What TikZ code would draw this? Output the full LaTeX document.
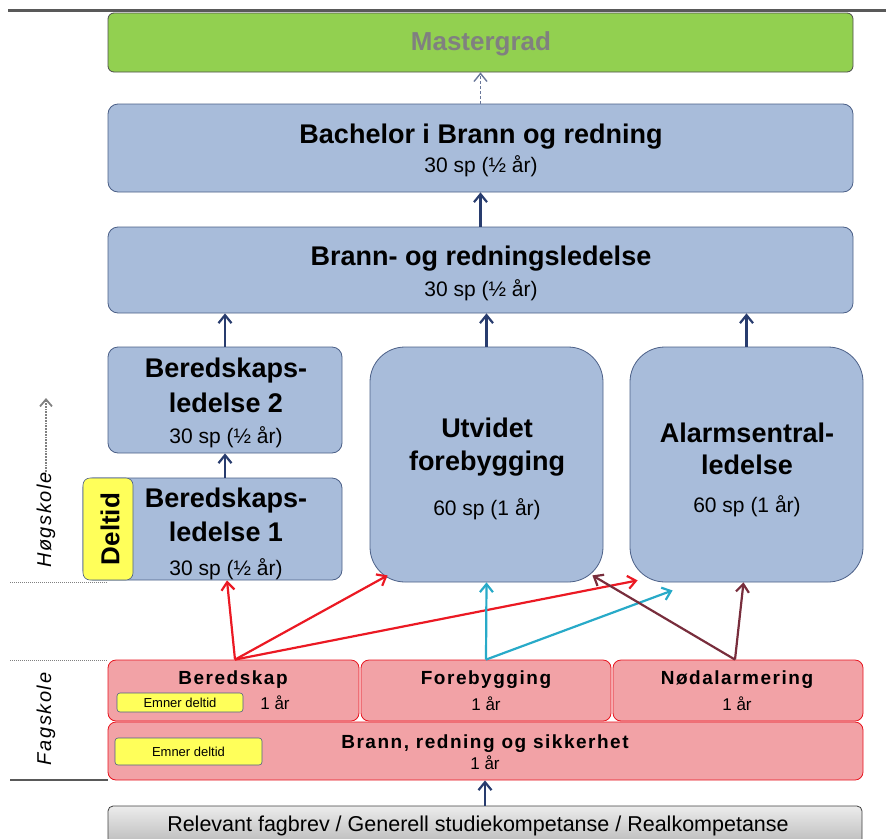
\documentclass[tikz,border=0pt]{standalone}
\usepackage{fontspec}
\setmainfont{Liberation Sans}
\newfontfamily\spaced[LetterSpace=8]{Liberation Sans}
\usetikzlibrary{arrows.meta}
\newcommand\fsz[1]{\fontsize{#1}{#1}\selectfont}
\definecolor{bluefill}{RGB}{168,188,218}
\definecolor{blueline}{RGB}{75,95,135}
\definecolor{greenfill}{RGB}{146,208,80}
\definecolor{pinkfill}{RGB}{242,162,166}
\definecolor{redline}{RGB}{232,20,30}
\definecolor{yellowfill}{RGB}{255,255,90}
\definecolor{navy}{RGB}{40,60,110}
\definecolor{cyanarrow}{RGB}{40,170,200}
\definecolor{maroonarrow}{RGB}{120,45,60}
\definecolor{redarrow}{RGB}{235,25,35}
\tikzset{
  bluebox/.style={draw=blueline, fill=bluefill, rounded corners=10pt, line width=0.8pt, inner sep=0pt},
  bigbox/.style={bluebox, rounded corners=35pt},
  pinkbox/.style={draw=redline, fill=pinkfill, rounded corners=8pt, line width=0.8pt, inner sep=0pt},
  ylwbox/.style={draw=blueline, fill=yellowfill, rounded corners=3pt, line width=0.6pt, inner sep=0pt},
  txt/.style={anchor=base, inner sep=0pt},
  uparrow/.style={-{Straight Barb[length=8pt,width=13pt]}, line width=2.2pt},
  sideline/.style={gray, line width=1pt},
}
\begin{document}
\begin{tikzpicture}[x=1pt,y=-1pt]
\useasboundingbox (0,0) rectangle (886,838);
% top line
\coordinate (tl1) at (8,10);
\coordinate (tl2) at (886,10);
\draw[gray!70!black, line width=3pt] (tl1) -- (tl2);
% left dividers
\coordinate (d1a) at (10,582); \coordinate (d1b) at (108,582);
\coordinate (d2a) at (10,660); \coordinate (d2b) at (108,660);
\coordinate (d3a) at (10,780); \coordinate (d3b) at (108,780);
\draw[sideline, densely dotted] (d1a) -- (d1b);
\draw[sideline, densely dotted] (d2a) -- (d2b);
\draw[gray!70!black, line width=1.2pt] (d3a) -- (d3b);

% boxes
\node[draw=gray!60!black, fill=greenfill, rounded corners=6pt, line width=0.8pt, minimum width=745pt, minimum height=59pt, inner sep=0pt] (mast) at (480.5,42.5) {};
\node[bluebox, minimum width=745pt, minimum height=88pt] (bach) at (480.5,148) {};
\node[bluebox, minimum width=745pt, minimum height=86pt] (led) at (480.5,270) {};
\node[bluebox, minimum width=234pt, minimum height=106pt] (bl2) at (225,400) {};
\node[bluebox, minimum width=259pt, minimum height=102pt] (bl1) at (212.5,529) {};
\node[bigbox, minimum width=233pt, minimum height=235pt] (utv) at (486.5,464.5) {};
\node[bigbox, minimum width=233pt, minimum height=235pt] (alarm) at (746.5,464.5) {};
\node[ylwbox, rounded corners=7pt, minimum width=50pt, minimum height=102pt] (deltid) at (108,529) {};
\node[rotate=90, inner sep=0pt] (deltidT) at (110,529) {\fsz{26}\bfseries Deltid};

\node[pinkbox, minimum width=251pt, minimum height=61pt] (bered) at (233.5,690.5) {};
\node[pinkbox, minimum width=250pt, minimum height=61pt] (fore) at (486,690.5) {};
\node[pinkbox, minimum width=250pt, minimum height=61pt] (nod) at (738,690.5) {};
\node[pinkbox, minimum width=755pt, minimum height=58pt] (brs) at (485.5,751) {};
\node[ylwbox, minimum width=126pt, minimum height=19pt] (em1) at (180,702.5) {\fsz{13}Emner deltid};
\node[ylwbox, minimum width=147pt, minimum height=27pt] (em2) at (188.5,751.5) {\fsz{13}Emner deltid};

\node[draw=gray!50!black, top color=gray!15, bottom color=gray!55, rounded corners=5pt, line width=0.8pt, minimum width=754pt, minimum height=40pt, inner sep=0pt] (rel) at (485,826) {};

% texts
\node[txt, text=gray] (mastT) at (481,50) {\fsz{26}\bfseries Mastergrad};
\node[txt] (bachT) at (481,143) {\fsz{27}\bfseries Bachelor i Brann og redning};
\node[txt] (bachS) at (481,172.5) {\fsz{21}30 sp (½ år)};
\node[txt] (ledT) at (481,265) {\fsz{27}\bfseries Brann- og redningsledelse};
\node[txt] (ledS) at (481,296.5) {\fsz{21}30 sp (½ år)};
\node[txt] (bl2a) at (226,377) {\fsz{27}\bfseries Beredskaps-};
\node[txt] (bl2b) at (226,412) {\fsz{27}\bfseries ledelse 2};
\node[txt] (bl2c) at (226,443) {\fsz{21}30 sp (½ år)};
\node[txt] (bl1a) at (226,507) {\fsz{27}\bfseries Beredskaps-};
\node[txt] (bl1b) at (226,541) {\fsz{27}\bfseries ledelse 1};
\node[txt] (bl1c) at (226,575) {\fsz{21}30 sp (½ år)};
\node[txt] (utvA) at (487,437) {\fsz{27}\bfseries Utvidet};
\node[txt] (utvB) at (487,470) {\fsz{27}\bfseries forebygging};
\node[txt] (utvC) at (487,515.5) {\fsz{21}60 sp (1 år)};
\node[txt] (alA) at (747,442) {\fsz{27}\bfseries Alarmsentral-};
\node[txt] (alB) at (747,474) {\fsz{27}\bfseries ledelse};
\node[txt] (alC) at (747,512.5) {\fsz{21}60 sp (1 år)};

\node[txt] (beredT) at (233,684) {\spaced\fsz{19}\bfseries Beredskap};
\node[txt] (beredS) at (275,709) {\fsz{17}1 år};
\node[txt] (foreT) at (486,684) {\spaced\fsz{19}\bfseries Forebygging};
\node[txt] (foreS) at (486,710) {\fsz{17}1 år};
\node[txt] (nodT) at (737,684) {\spaced\fsz{19}\bfseries Nødalarmering};
\node[txt] (nodS) at (737,710) {\fsz{17}1 år};
\node[txt] (brsT) at (485,748) {\spaced\fsz{19}\bfseries Brann, redning og sikkerhet};
\node[txt] (brsS) at (485,769) {\fsz{17}1 år};
\node[txt] (relT) at (478,831) {\fsz{21.5}Relevant fagbrev / Generell studiekompetanse / Realkompetanse};

% side labels
\node[rotate=90, inner sep=0pt] (hog) at (46,520) {\spaced\fsz{20}\itshape Høgskole};
\node[rotate=90, inner sep=0pt] (fag) at (46,719) {\spaced\fsz{20}\itshape Fagskole};
\coordinate (hogtop) at (46,398);
\draw[gray, densely dotted, line width=1.8pt, -{Straight Barb[length=7pt,width=12pt]}] (hog.east) -- (hogtop);

% connectors
\draw[uparrow, navy!70, densely dashed, line width=1.4pt] (bach.north) -- (mast.south);
\draw[uparrow, navy] (led.north) -- (bach.south);
\draw[uparrow, navy] (bl2.north) -- (bl2.north |- led.south);
\draw[uparrow, navy] (utv.north) -- (utv.north |- led.south);
\draw[uparrow, navy] (alarm.north) -- (alarm.north |- led.south);
\draw[uparrow, navy] ([xshift=12.5pt]bl1.north) -- (bl2.south);
\draw[uparrow, navy] (rel.north) -- (rel.north |- brs.south);

% red from Beredskap
\draw[uparrow, redarrow] ([xshift=1.5pt]bered.north) -- ([xshift=14.5pt]bl1.south);
\draw[uparrow, redarrow] ([xshift=1.5pt]bered.north) -- ([xshift=18pt,yshift=7pt]utv.south west);
\draw[uparrow, redarrow] ([xshift=1.5pt]bered.north) -- ([xshift=8pt,yshift=2pt]alarm.south west);
% cyan from Forebygging
\draw[uparrow, cyanarrow] (fore.north) -- (utv.south);
\draw[uparrow, cyanarrow] (fore.north) -- ([xshift=43pt,yshift=-8pt]alarm.south west);
% maroon from Nodalarmering
\draw[uparrow, maroonarrow] ([xshift=-3pt]nod.north) -- ([xshift=-11pt,yshift=7pt]utv.south east);
\draw[uparrow, maroonarrow] ([xshift=-3pt]nod.north) -- ([xshift=-3pt]alarm.south);
\end{tikzpicture}
\end{document}
